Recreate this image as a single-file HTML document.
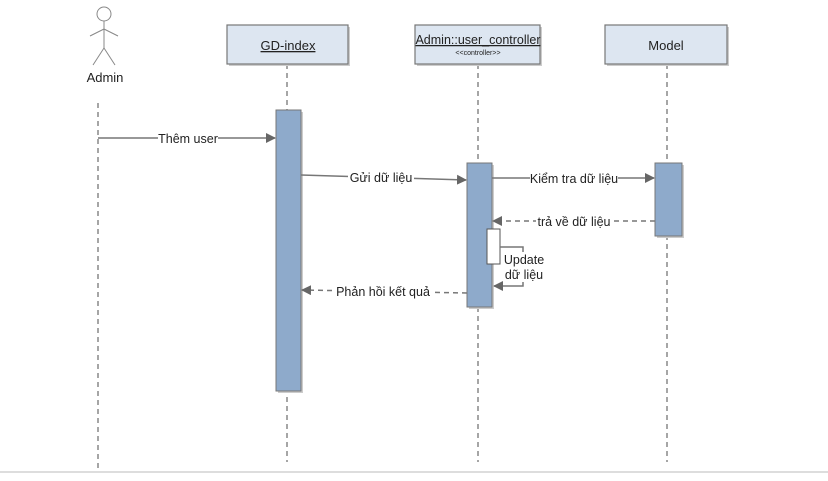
<!DOCTYPE html>
<html><head><meta charset="utf-8"><style>
html,body{margin:0;padding:0;background:#fff;}
svg{display:block;font-family:"Liberation Sans",sans-serif;}
</style></head><body>
<svg width="828" height="481" viewBox="0 0 828 481" xmlns="http://www.w3.org/2000/svg">
<defs>
<marker id="a" markerWidth="10" markerHeight="10" refX="9" refY="5" orient="auto" markerUnits="userSpaceOnUse">
<path d="M0,0 L10,5 L0,10 z" fill="#666"/></marker>
</defs>
<!-- actor -->
<g stroke="#888" stroke-width="1" fill="none">
<circle cx="104" cy="14" r="7" fill="#fff"/>
<line x1="104" y1="21" x2="104" y2="48"/>
<line x1="90" y1="36" x2="104" y2="29"/><line x1="104" y1="29" x2="118" y2="36"/>
<line x1="104" y1="48" x2="93" y2="65"/><line x1="104" y1="48" x2="115" y2="65"/>
</g>
<text x="105" y="82" font-size="13" text-anchor="middle" fill="#222">Admin</text>
<!-- lifelines -->
<g stroke="#888" stroke-width="1.5" stroke-dasharray="5,4">
<line x1="98" y1="103" x2="98" y2="468"/>
<line x1="287" y1="64" x2="287" y2="462"/>
<line x1="478" y1="64" x2="478" y2="462"/>
<line x1="667" y1="64" x2="667" y2="462"/>
</g>
<!-- shadows -->
<g fill="#ccc">
<rect x="229" y="27" width="121" height="39"/>
<rect x="417" y="27" width="125" height="39"/>
<rect x="607" y="27" width="122" height="39"/>
<rect x="278" y="112" width="25" height="281"/>
<rect x="469" y="165" width="25" height="144"/>
<rect x="657" y="165" width="27" height="73"/>
</g>
<!-- boxes -->
<g fill="#dde6f1" stroke="#777" stroke-width="1.2">
<rect x="227" y="25" width="121" height="39"/>
<rect x="415" y="25" width="125" height="39"/>
<rect x="605" y="25" width="122" height="39"/>
</g>
<text x="288" y="50" font-size="13" text-anchor="middle" fill="#222" text-decoration="underline">GD-index</text>
<text x="478" y="44" font-size="12.5" text-anchor="middle" fill="#222" text-decoration="underline">Admin::user_controller</text>
<text x="478" y="55" font-size="7" text-anchor="middle" fill="#222">&lt;&lt;controller&gt;&gt;</text>
<text x="666" y="50" font-size="13" text-anchor="middle" fill="#222">Model</text>
<!-- activations -->
<g fill="#8eaacb" stroke="#777" stroke-width="1">
<rect x="276" y="110" width="25" height="281"/>
<rect x="467" y="163" width="25" height="144"/>
<rect x="655" y="163" width="27" height="73"/>
</g>
<rect x="487" y="229" width="13" height="35" fill="#fff" stroke="#555"/>
<!-- messages -->
<g stroke="#777" stroke-width="1.5" fill="none">
<line x1="98" y1="138" x2="275" y2="138" marker-end="url(#a)"/>
<line x1="301" y1="175" x2="466" y2="180" marker-end="url(#a)"/>
<line x1="492" y1="178" x2="654" y2="178" marker-end="url(#a)"/>
<line x1="655" y1="221" x2="493" y2="221" stroke-dasharray="5,4" marker-end="url(#a)"/>
<polyline points="500,247 523,247 523,286 494,286" marker-end="url(#a)"/>
<line x1="467" y1="293" x2="302" y2="290" stroke-dasharray="5,4" marker-end="url(#a)"/>
</g>
<g font-size="12.5" fill="#222" text-anchor="middle">
<rect x="158" y="131" width="60" height="14" fill="#fff"/>
<text x="188" y="143">Thêm user</text>
<rect x="348" y="170" width="66" height="14" fill="#fff"/>
<text x="381" y="182">Gửi dữ liệu</text>
<rect x="530" y="171" width="88" height="14" fill="#fff"/>
<text x="574" y="183">Kiểm tra dữ liệu</text>
<rect x="536" y="214" width="76" height="14" fill="#fff"/>
<text x="574" y="226">trả về dữ liệu</text>
<rect x="504" y="252" width="42" height="30" fill="#fff"/>
<text x="524" y="264">Update</text>
<text x="524" y="279">dữ liệu</text>
<rect x="335" y="284" width="96" height="14" fill="#fff"/>
<text x="383" y="296">Phản hồi kết quả</text>
</g>
<line x1="0" y1="472" x2="828" y2="472" stroke="#bbb" stroke-width="1"/>
</svg>
</body></html>
